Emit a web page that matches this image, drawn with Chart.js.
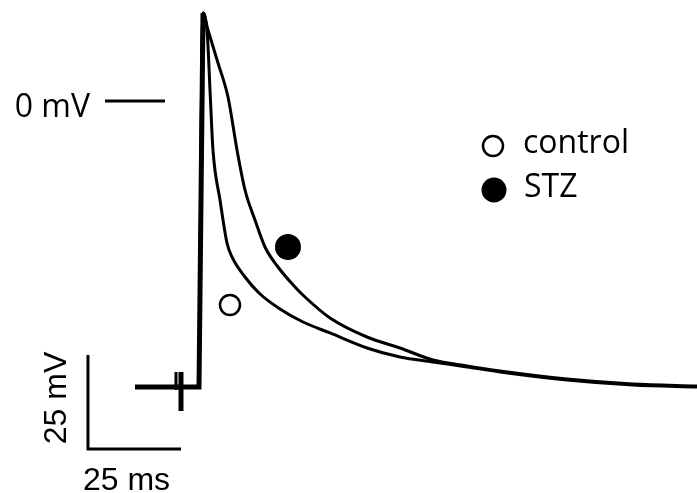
<!DOCTYPE html>
<html>
<head>
<meta charset="utf-8">
<script src="https://cdn.jsdelivr.net/npm/chart.js@4.4.0/dist/chart.umd.min.js"></script>
<style>
  html, body { margin: 0; padding: 0; background: #fff; }
  #wrap { width: 697px; height: 493px; position: relative; }
</style>
</head>
<body>
<div id="wrap"><canvas id="apChart"></canvas></div>
<script>
// ---------------- Data (time in ms, voltage in mV) ----------------
const controlTime = [0, 1.08, 2.28, 2.96, 3.76, 5.65, 7.53, 8.87, 12.37, 16.13, 21.77, 27.96, 35.22, 45.16, 54.03, 62.90, 72.04, 80.91, 98.92, 116.67, 133.87];
const controlMV   = [-76.06, 23.40, 17.02, 2.93, -13.03, -26.33, -37.77, -41.49, -46.81, -51.06, -55.32, -58.78, -61.70, -65.69, -68.09, -69.41, -70.74, -72.07, -74.20, -75.53, -76.06];

const stzTime = [0, 1.08, 2.42, 5.11, 7.80, 10.22, 12.37, 15.05, 17.74, 21.24, 25.81, 28.49, 35.22, 45.16, 54.03, 62.90, 72.04, 80.91, 98.92, 116.67, 133.87];
const stzMV   = [-76.06, 23.40, 18.88, 10.11, 1.06, -13.03, -23.67, -31.65, -38.83, -44.15, -49.47, -52.13, -57.71, -62.77, -65.69, -68.88, -70.48, -71.81, -73.94, -75.27, -75.80];

// resting baseline before the spike (shared by both traces)
const baselineTime = [-17.2, 0, 1.08];
const baselineMV = [-76.06, -76.06, 23.40];

// stimulus artifact
const artifactTime = [-4.84, -6.18];
const artifactTop = [-72.07, -72.07];
const artifactBottom = [-82.45, -76.86];

// scale bars: 25 ms / 25 mV, and the 0 mV reference
const barTime = [-29.84, -29.84, -4.84];
const barMV = [-67.55, -92.55, -92.55];
const zeroTime = [-25.27, -9.14];
const zeroMV = [0, 0];

// markers on traces and legend symbols
const seriesNames = ['control', 'STZ'];
const markerTime = [8.33, 23.92];
const markerMV = [-54.26, -38.83];
const legendTime = [79.03, 79.30];
const legendMV = [-11.97, -23.67];

const xMin = -53.49, xMax = 133.87;
const yMin = -104.26, yMax = 26.86;

function pts(xs, ys) {
  return xs.map((x, i) => ({ x: x, y: ys[i] }));
}

const lineBase = {
  borderColor: '#000',
  pointRadius: 0,
  fill: false,
  showLine: true
};

const datasets = [
  Object.assign({}, lineBase, { data: pts(controlTime, controlMV), borderWidth: 3, cubicInterpolationMode: 'monotone' }),
  Object.assign({}, lineBase, { data: pts(stzTime, stzMV), borderWidth: 3, cubicInterpolationMode: 'monotone' }),
  Object.assign({}, lineBase, { data: pts(baselineTime, baselineMV), borderWidth: 5, borderJoinStyle: 'miter' }),
  Object.assign({}, lineBase, { data: [{ x: artifactTime[0], y: artifactTop[0] }, { x: artifactTime[0], y: artifactBottom[0] }], borderWidth: 5 }),
  Object.assign({}, lineBase, { data: [{ x: artifactTime[1], y: artifactTop[1] }, { x: artifactTime[1], y: artifactBottom[1] }], borderWidth: 3 }),
  Object.assign({}, lineBase, { data: pts(barTime, barMV), borderWidth: 3, borderJoinStyle: 'miter' }),
  Object.assign({}, lineBase, { data: pts(zeroTime, zeroMV), borderWidth: 3 }),
  // open circle = control, filled = STZ
  {
    data: [{ x: markerTime[0], y: markerMV[0] }, { x: legendTime[0], y: legendMV[0] }],
    showLine: false,
    pointRadius: 10,
    pointBorderWidth: 2.5,
    pointBackgroundColor: '#fff',
    pointBorderColor: '#000'
  },
  {
    data: [{ x: markerTime[1], y: markerMV[1] }, { x: legendTime[1], y: legendMV[1] }],
    showLine: false,
    pointRadius: [13, 12.5],
    pointBorderWidth: 0,
    pointBackgroundColor: '#000',
    pointBorderColor: '#000'
  }
];

// ---------------- Text labels ----------------
const labelPlugin = {
  id: 'labels',
  afterDraw(chart) {
    const c = chart.ctx;
    const xs = chart.scales.x;
    const ys = chart.scales.y;
    c.save();
    c.fillStyle = '#000';

    // 0 mV
    c.font = '32px "Open Sans"';
    c.textAlign = 'right';
    c.textBaseline = 'alphabetic';
    c.fillText('0 mV', xs.getPixelForValue(zeroTime[0]) - 15, ys.getPixelForValue(zeroMV[0]) + 16);

    // legend
    c.textAlign = 'left';
    seriesNames.forEach((name, i) => {
      c.fillText(name, xs.getPixelForValue(legendTime[i]) + 30, ys.getPixelForValue(legendMV[i]) + 7);
    });

    // scale bar labels
    c.font = '32px "Liberation Sans"';
    const barX = xs.getPixelForValue(barTime[0]);
    const barBottom = ys.getPixelForValue(barMV[1]);
    c.fillText('25 ms', barX - 5, barBottom + 41);

    const midY = (ys.getPixelForValue(barMV[0]) + barBottom) / 2;
    c.translate(barX - 22, midY - 4);
    c.rotate(-Math.PI / 2);
    c.textAlign = 'center';
    c.fillText('25 mV', 0, 0);
    c.restore();
  }
};

const ctx = document.getElementById('apChart').getContext('2d');
new Chart(ctx, {
  type: 'scatter',
  data: { datasets: datasets },
  options: {
    responsive: true,
    maintainAspectRatio: false,
    animation: false,
    layout: { padding: 0, autoPadding: false },
    plugins: {
      legend: { display: false },
      tooltip: { enabled: false }
    },
    scales: {
      x: { type: 'linear', min: xMin, max: xMax, display: false },
      y: { type: 'linear', min: yMin, max: yMax, display: false }
    }
  },
  plugins: [labelPlugin]
});
</script>
</body>
</html>
